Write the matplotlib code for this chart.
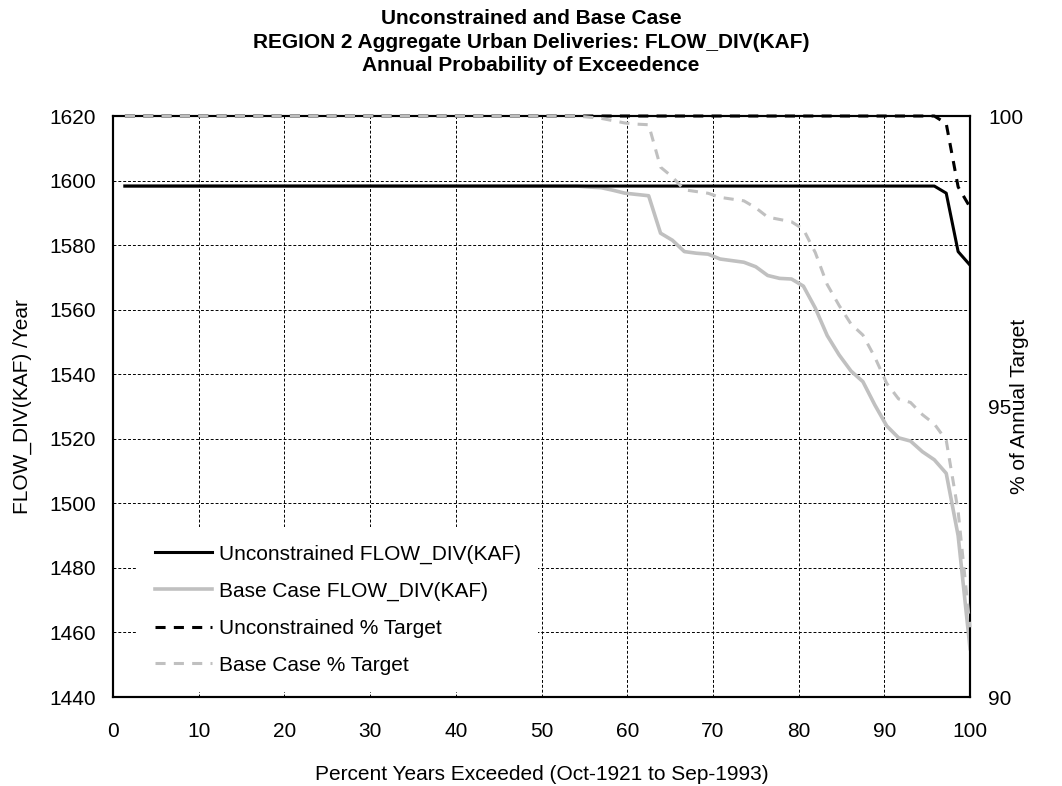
import matplotlib
matplotlib.use("Agg")
import matplotlib.pyplot as plt
from matplotlib.ticker import MultipleLocator

plt.rcParams['font.family'] = ['Liberation Sans', 'DejaVu Sans']

# Annual deliveries sorted from largest to smallest (Oct-1921 to Sep-1993, 72 years)
unconstrained_flow = [1598.3] * 69 + [1596.1, 1578.0, 1573.8]
base_flow = [1598.3] * 39 + [
    1598.0, 1597.8, 1597.0, 1596.1, 1595.7, 1595.3, 1583.7, 1581.5, 1578.0,
    1577.5, 1577.2, 1575.7, 1575.2, 1574.7, 1573.3, 1570.6, 1569.7, 1569.5,
    1567.3, 1560.5, 1552.0, 1546.0, 1541.0, 1537.7, 1530.5, 1524.0, 1520.3,
    1519.3, 1516.0, 1513.5, 1509.3, 1490.0, 1455.0]

# Deliveries as percent of the annual target, same ordering
unconstrained_pct = [100.0] * 69 + [99.87, 98.78, 98.43]
base_pct = [100.0] * 39 + [
    99.98, 99.96, 99.92, 99.88, 99.86, 99.85, 99.12, 98.95, 98.73,
    98.70, 98.67, 98.60, 98.57, 98.54, 98.42, 98.26, 98.22, 98.18,
    98.05, 97.65, 97.10, 96.74, 96.42, 96.23, 95.85, 95.40, 95.13,
    95.07, 94.86, 94.70, 94.42, 93.20, 91.20]

n_years = len(base_flow)
pct_exceeded = [100.0 * (i + 1) / n_years for i in range(n_years)]

title = ("Unconstrained and Base Case\n"
         "REGION 2 Aggregate Urban Deliveries: FLOW_DIV(KAF)\n"
         "Annual Probability of Exceedence")

FS = 15

fig = plt.figure(figsize=(10.62, 7.86), dpi=100)
ax = fig.add_axes([0.1064, 0.1132, 0.8070, 0.7392])
ax2 = ax.twinx()

grey = '#C0C0C0'
l1, = ax.plot(pct_exceeded, unconstrained_flow, color='black', lw=2.2,
              label='Unconstrained FLOW_DIV(KAF)', zorder=4)
l2, = ax.plot(pct_exceeded, base_flow, color=grey, lw=2.6,
              label='Base Case FLOW_DIV(KAF)', zorder=3)
l3, = ax2.plot(pct_exceeded, unconstrained_pct, color='black', lw=2.2,
               dashes=(3.3, 2.7), label='Unconstrained % Target',
               clip_on=False, zorder=3)
l4, = ax2.plot(pct_exceeded, base_pct, color=grey, lw=2.2,
               dashes=(3.3, 2.7), label='Base Case % Target',
               clip_on=False, zorder=4)

ax.set_xlim(0, 100)
ax.set_ylim(1440, 1620)
ax2.set_ylim(90, 100)
ax.xaxis.set_major_locator(MultipleLocator(10))
ax.yaxis.set_major_locator(MultipleLocator(20))
ax2.yaxis.set_major_locator(MultipleLocator(5))

ax.grid(True, color='black', linestyle=(0, (3, 2)), lw=0.7)
ax.set_axisbelow(True)

for a in (ax, ax2):
    a.tick_params(length=0, labelsize=FS)
    for s in a.spines.values():
        s.set_linewidth(1.5)
ax.tick_params(axis='x', pad=18)
ax.tick_params(axis='y', pad=12)
ax2.tick_params(axis='y', pad=13)

ax.set_xlabel('Percent Years Exceeded (Oct-1921 to Sep-1993)', fontsize=FS)
ax.xaxis.label.set_va('baseline')
ax.xaxis.set_label_coords(0.5, -0.1429)
ax.set_ylabel('FLOW_DIV(KAF) /Year', fontsize=FS)
ax.yaxis.set_label_coords(-0.0945, 0.5)
ax2.set_ylabel('% of Annual Target', fontsize=FS)
ax2.yaxis.set_label_coords(1.047, 0.5)

fig.text(0.5, 0.988, title, fontsize=FS, fontweight='bold', ha='center',
         va='top', linespacing=1.29)

leg = ax2.legend(handles=[l1, l2, l3, l4], loc='lower left',
                 bbox_to_anchor=(0.0284, 0.0079), fontsize=FS, frameon=True,
                 fancybox=False, edgecolor='none', facecolor='white',
                 framealpha=1.0, handlelength=2.75, handletextpad=0.3,
                 labelspacing=0.86, borderpad=0.85, borderaxespad=0)
leg.set_zorder(10)

fig.savefig('out.png', dpi=100)
